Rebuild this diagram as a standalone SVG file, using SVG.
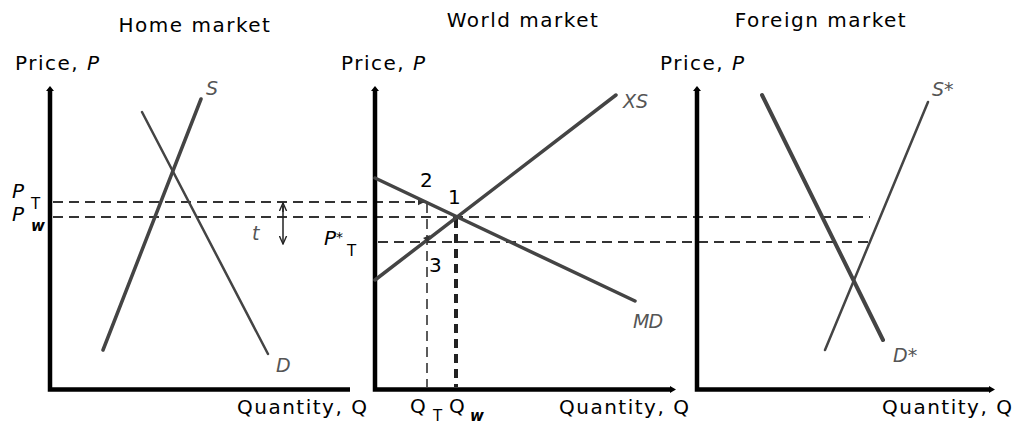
<svg xmlns="http://www.w3.org/2000/svg" width="1019" height="425" viewBox="0 0 1019 425">
<style>
text{font-family:"DejaVu Sans","Liberation Sans",sans-serif;fill:#000}
.t{font-size:20px;letter-spacing:1.5px}
.lbl{font-size:19px;font-style:italic;fill:#555}
.num{font-size:20px}
.sub{font-size:15px}
.axis{stroke:#000;stroke-width:4.5;fill:none}
.dash{stroke:#333;stroke-width:2;stroke-dasharray:10 6;fill:none}
.curve{stroke:#444;fill:none;stroke-linecap:round}
</style>
<defs>
<marker id="tri" viewBox="0 0 10 10" refX="9" refY="5" markerWidth="3.5" markerHeight="3.5" orient="auto"><path d="M0,0 L10,5 L0,10 z" fill="#333"/></marker>
<marker id="open" viewBox="0 0 10 10" refX="9" refY="5" markerWidth="6" markerHeight="6" orient="auto"><path d="M0,1 L9,5 L0,9" fill="none" stroke="#222" stroke-width="1.5"/></marker>
</defs>

<g id="titles">
<text class="t" x="195" y="32" text-anchor="middle">Home market</text>
<text class="t" x="523" y="27" text-anchor="middle">World market</text>
<text class="t" x="821" y="27" text-anchor="middle">Foreign market</text>
</g>

<g id="connectors">
<line class="dash" x1="53" y1="202" x2="424" y2="202" marker-end="url(#tri)"/>
<line class="dash" x1="53" y1="217" x2="870" y2="217"/>
<line class="dash" x1="378" y1="242" x2="868" y2="242"/>
<line class="dash" x1="427" y1="203" x2="427" y2="387" style="stroke-width:1.6"/>
<line class="dash" x1="456" y1="219" x2="456" y2="387" style="stroke-width:4;stroke-dasharray:9 6;stroke:#222"/>
<line x1="283" y1="212" x2="283" y2="203" stroke="#222" stroke-width="1.5" marker-end="url(#open)"/>
<line x1="283" y1="206" x2="283" y2="244" stroke="#222" stroke-width="1.5" marker-end="url(#open)"/>
</g>

<g id="home-market">
<polyline class="axis" points="50,89 50,389.5 350,389.5"/>
<path d="M50,86 l4,5 h-8 z" fill="#000"/>
<line class="curve" x1="103" y1="350" x2="201" y2="99" stroke-width="3.5"/>
<line class="curve" x1="142" y1="112" x2="268" y2="354" stroke-width="2.5"/>
<text class="lbl" x="206" y="95">S</text>
<text class="lbl" x="276" y="372">D</text>
<text class="num" x="12" y="198" font-style="italic">P</text>
<text class="sub" x="31" y="209">T</text>
<text class="num" x="12" y="221" font-style="italic">P</text>
<text class="sub" x="31" y="231" font-style="italic" font-weight="bold">w</text>
<text class="t" x="15" y="70">Price, <tspan font-style="italic">P</tspan></text>
<text class="t" x="237" y="414">Quantity, Q</text>
<text class="lbl" x="252" y="240" fill="#222">t</text>
</g>

<g id="world-market">
<polyline class="axis" points="375,89 375,389.5 671,389.5"/>
<path d="M375,86 l4,5 h-8 z" fill="#000"/>
<path d="M676,389.5 l-6,-3.5 v7 z" fill="#000"/>
<line class="curve" x1="375" y1="178" x2="635" y2="301" stroke-width="3.5"/>
<line class="curve" x1="375" y1="280" x2="616" y2="95" stroke-width="3.5"/>
<path d="M423,238 l7,-3 l-2,7 z" fill="#333"/>
<text class="lbl" x="623" y="108">XS</text>
<text class="lbl" x="633" y="328" letter-spacing="-1">MD</text>
<text class="num" x="420" y="187">2</text>
<text class="num" x="448" y="204">1</text>
<text class="num" x="429" y="272">3</text>
<text class="num" x="324" y="245" font-style="italic">P<tspan font-size="14" dy="-3">*</tspan></text>
<text class="sub" x="347" y="256">T</text>
<text class="t" x="341" y="70">Price, <tspan font-style="italic">P</tspan></text>
<text class="t" x="410" y="413">Q</text>
<text class="sub" x="433" y="421">T</text>
<text class="t" x="449" y="413">Q</text>
<text class="sub" x="470" y="421" font-style="italic" font-weight="bold">w</text>
<text class="t" x="559" y="414">Quantity, Q</text>
</g>

<g id="foreign-market">
<polyline class="axis" points="697,89 697,389.5 990,389.5"/>
<path d="M697,86 l4,5 h-8 z" fill="#000"/>
<path d="M995,389.5 l-6,-3.5 v7 z" fill="#000"/>
<line class="curve" x1="762" y1="95" x2="883" y2="340" stroke-width="4"/>
<line class="curve" x1="928" y1="102" x2="825" y2="350" stroke-width="2.5"/>
<text class="lbl" x="932" y="96">S*</text>
<text class="lbl" x="893" y="362">D*</text>
<text class="t" x="660" y="70">Price, <tspan font-style="italic">P</tspan></text>
<text class="t" x="882" y="414">Quantity, Q</text>
</g>
</svg>
